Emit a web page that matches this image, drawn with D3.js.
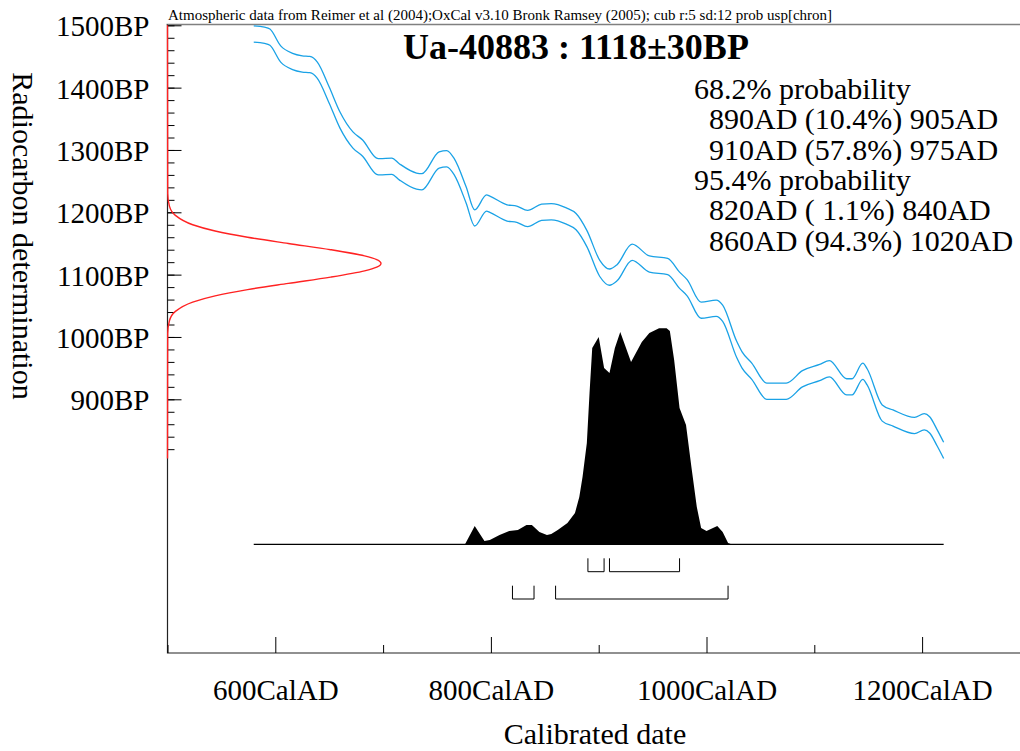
<!DOCTYPE html>
<html lang="en">
  <head>
    <meta charset="UTF-8" />
    <title>Ua-40883 : 1118±30BP</title>
    <style>
      body {
        margin: 0;
        background: #fff;
      }
      svg {
        display: block;
      }
      text {
        font-family: "Liberation Serif", "Times New Roman", serif;
        fill: #000;
      }
      .axis path.domain {
        display: none;
      }
      .axis line {
        stroke: #000;
      }
      .cal {
        fill: none;
        stroke: #1aa2e6;
        stroke-width: 1.3;
      }
    </style>
  </head>
  <body>
    <svg width="1020" height="751"></svg>
    <script src="https://d3js.org/d3.v7.min.js"></script>
    <script>
      // calibration curve (cal AD / BP, +-1 sigma band)
      const calYears = [580, 590, 595, 605, 616, 625, 632, 639, 650, 660, 672, 681, 694, 697, 708, 715, 731, 736, 752, 759,
        766, 777, 785, 796, 799, 815, 824, 834, 847, 856, 870, 879, 889, 901, 910, 917, 931, 947, 964, 975,
        982, 995, 1009, 1015, 1028, 1033, 1042, 1056, 1074, 1089, 1105, 1114, 1130, 1135, 1145, 1149, 1163, 1173, 1193, 1202,
        1207, 1214, 1220];
      const curveBP = [1486, 1484, 1481, 1454, 1442, 1438, 1437, 1428, 1388, 1348, 1316, 1303, 1274, 1273, 1274, 1265, 1250, 1249, 1284, 1286,
        1273, 1228, 1191, 1215, 1213, 1199, 1197, 1190, 1200, 1201, 1194, 1185, 1158, 1110, 1096, 1103, 1136, 1117, 1113, 1091,
        1079, 1043, 1046, 1038, 980, 963, 945, 913, 913, 933, 943, 949, 920, 920, 945, 936, 878, 870, 858, 864,
        859, 838, 818];
      const curveSigma = 13;

      // calibrated probability (relative to the peak)
      const probYears = [580, 776, 785, 794, 799, 808, 817, 825, 833, 838, 845, 852, 856, 862, 871, 878, 882, 885, 889, 891.5,
        894, 900, 905, 910, 915, 920, 930, 940, 947, 956, 963, 966, 970, 975, 981, 986, 991, 995, 1000, 1010,
        1015, 1020, 1023, 1220];
      const probValues = [0, 0, 0.085, 0.015, 0.02, 0.043, 0.062, 0.066, 0.089, 0.089, 0.057, 0.043, 0.048, 0.066, 0.099, 0.145, 0.219, 0.312, 0.469, 0.7,
        0.909, 0.96, 0.816, 0.793, 0.909, 0.983, 0.844, 0.937, 0.978, 1.0, 1.0, 0.988, 0.853, 0.631, 0.552, 0.358, 0.173, 0.075, 0.062, 0.085,
        0.057, 0.006, 0, 0];

      // radiocarbon measurement (red curve on the y axis)
      const dateBP = [1500, 1230, 1210, 1195, 1180, 1170, 1160, 1150, 1140, 1130, 1124, 1118, 1112, 1106, 1096, 1086, 1076, 1066, 1056, 1041, 1026, 1006, 805];
      const dateDensity = [0, 0.001, 0.009, 0.037, 0.118, 0.223, 0.375, 0.566, 0.764, 0.923, 0.98, 1, 0.98, 0.923, 0.764, 0.566, 0.375, 0.223, 0.118, 0.037, 0.009, 0.001, 0];

      const ranges68 = [[890, 905], [910, 975]];
      const ranges95 = [[820, 840], [860, 1020]];

      const legendHeads = ["68.2% probability", "95.4% probability"];
      const legend68 = ["890AD (10.4%) 905AD", "910AD (57.8%) 975AD"];
      const legend95 = ["820AD ( 1.1%) 840AD", "860AD (94.3%) 1020AD"];

      const xMajor = [600, 800, 1000, 1200];
      const xMinor = [500, 700, 900, 1100];
      const yMajor = [1500, 1400, 1300, 1200, 1100, 1000, 900];

      const svg = d3.select("svg");
      const left = 167.5, bottom = 653, right = 1020;

      const x = d3.scaleLinear().domain([500, 1300]).range([left, left + 800 * 1.078]);
      const y = d3.scaleLinear().domain([1500, 900]).range([25.3, 399.3]);
      const p = d3.scaleLinear().domain([0, 1]).range([544.3, 328.3]);
      const dens = d3.scaleLinear().domain([0, 1]).range([left, 381]);

      // top rule and header
      svg.append("line")
        .attr("x1", left - 1).attr("x2", right)
        .attr("y1", 24.5).attr("y2", 24.5)
        .attr("stroke", "#808080").attr("stroke-width", 1.6);
      svg.append("text")
        .attr("x", 168).attr("y", 20)
        .style("font-size", "15px")
        .text("Atmospheric data from Reimer et al (2004);OxCal v3.10 Bronk Ramsey (2005); cub r:5 sd:12 prob usp[chron]");

      // calibration curve band
      const cal = calYears.map((d, i) => ({ year: d, bp: curveBP[i] }));
      [curveSigma, -curveSigma].forEach(s => {
        svg.append("path")
          .attr("class", "cal")
          .attr("d", d3.line().x(d => x(d.year)).y(d => y(d.bp + s)).curve(d3.curveMonotoneX)(cal));
      });

      // probability distribution
      const prob = probYears.map((d, i) => ({ year: d, v: probValues[i] }));
      svg.append("path")
        .attr("fill", "#000")
        .attr("d", d3.area().x(d => x(d.year)).y0(p(0)).y1(d => p(d.v))(prob));
      svg.append("line")
        .attr("x1", x(probYears[0])).attr("x2", x(probYears[probYears.length - 1]))
        .attr("y1", p(0)).attr("y2", p(0))
        .attr("stroke", "#000").attr("stroke-width", 1.3);

      // range brackets
      function brackets(ranges, top, bot) {
        svg.selectAll(null)
          .data(ranges)
          .enter()
          .append("path")
          .attr("fill", "none")
          .attr("stroke", "#000")
          .attr("stroke-width", 1)
          .attr("d", d => `M${x(d[0])},${top}V${bot}H${x(d[1])}V${top}`);
      }
      brackets(ranges68, 558.3, 571.7);
      brackets(ranges95, 585.7, 599);

      // axes
      svg.append("path")
        .attr("fill", "none").attr("stroke", "#222").attr("stroke-width", 1.2)
        .attr("d", `M${left},24.5V${bottom}H${right}`);

      svg.append("g")
        .attr("class", "axis")
        .attr("transform", `translate(${left},0)`)
        .call(d3.axisLeft(y).tickValues(d3.range(1500, 819, -20)).tickSizeInner(-7).tickSizeOuter(0).tickFormat(""));
      const yAxis = svg.append("g")
        .attr("class", "axis")
        .attr("transform", `translate(${left},0)`)
        .call(d3.axisLeft(y).tickValues(yMajor).tickSizeInner(-14).tickSizeOuter(0).tickPadding(18).tickFormat(d => d + "BP"));
      yAxis.selectAll("text")
        .attr("dy", 10.5)
        .style("font-size", "29px");

      svg.append("g")
        .attr("class", "axis")
        .attr("transform", `translate(0,${bottom})`)
        .call(d3.axisBottom(x).tickValues(xMinor).tickSizeInner(-8).tickSizeOuter(0).tickFormat(""));
      const xAxis = svg.append("g")
        .attr("class", "axis")
        .attr("transform", `translate(0,${bottom})`)
        .call(d3.axisBottom(x).tickValues(xMajor).tickSizeInner(-16).tickSizeOuter(0).tickPadding(26).tickFormat(d => d + "CalAD"));
      xAxis.selectAll("text")
        .attr("dy", 21)
        .style("font-size", "29px");

      // measurement curve on the y axis
      const date = dateBP.map((d, i) => ({ bp: d, v: dateDensity[i] }));
      svg.append("path")
        .attr("fill", "none")
        .attr("stroke", "#f22")
        .attr("stroke-width", 1.4)
        .attr("d", d3.line().x(d => dens(d.v)).y(d => y(d.bp)).curve(d3.curveMonotoneY)(date));

      // title
      svg.append("text")
        .attr("x", 576).attr("y", 59)
        .attr("text-anchor", "middle")
        .style("font-size", "36px")
        .style("font-weight", "bold")
        .text("Ua-40883 : 1118±30BP");

      // probability ranges
      const lines = [legendHeads[0], ...legend68, legendHeads[1], ...legend95];
      svg.selectAll(null)
        .data(lines)
        .enter()
        .append("text")
        .attr("x", d => (legendHeads.includes(d) ? 694 : 709))
        .attr("y", (d, i) => 99 + i * 30.3)
        .style("font-size", "30px")
        .style("white-space", "pre")
        .text(d => d);

      // axis titles
      svg.append("text")
        .attr("x", 595).attr("y", 744)
        .attr("text-anchor", "middle")
        .style("font-size", "30px")
        .text("Calibrated date");
      svg.append("text")
        .attr("transform", "translate(13,236) rotate(90)")
        .attr("text-anchor", "middle")
        .style("font-size", "30px")
        .text("Radiocarbon determination");
    </script>
  </body>
</html>
